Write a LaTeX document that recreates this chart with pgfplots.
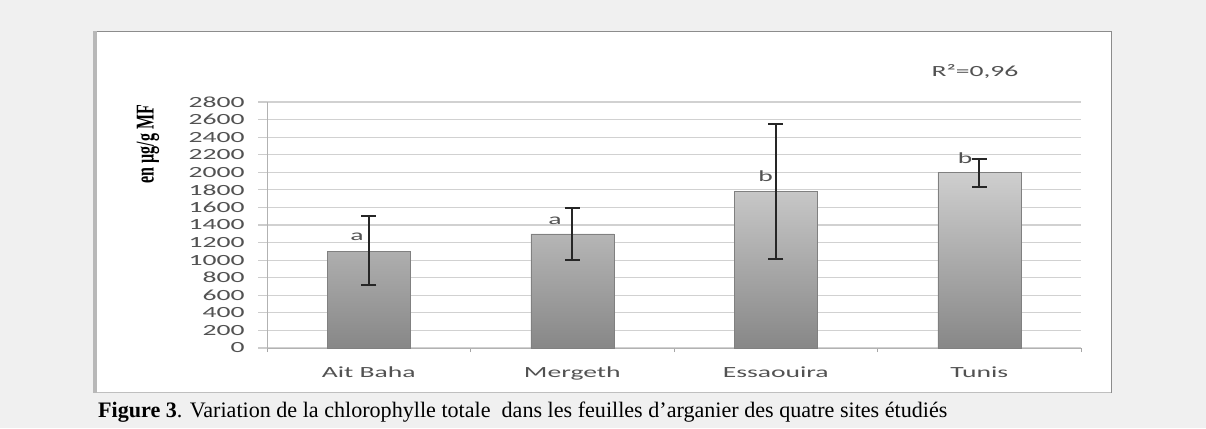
\documentclass[border=0pt]{standalone}
\usepackage{fontspec}
\setmainfont{Liberation Serif}
\newfontfamily\calfont{Carlito}
\usepackage{pgfplots}
\pgfplotsset{compat=1.18}
\pgfplotstableread{
x y ep em
0 1100 400 380
1 1300 290 300
2 1780 770 770
3 2000 150 170
}\datatab
\begin{document}
\begin{tikzpicture}[x=1pt,y=1pt]
\fill[black!6] (0,0) rectangle (1206,428);
\fill[white] (96,35) rectangle (1111,396.5);
\draw[black!45, line width=1pt] (96,396.5) -- (1111,396.5) -- (1111,35);
\draw[black!25, line width=1pt] (96,35) -- (1111,35);
\fill[black!28] (92.5,35) rectangle (96.5,397);
\begin{axis}[
  at={(267pt,80pt)}, anchor=south west, scale only axis,
  width=814pt, height=246pt,
  xmin=-0.5, xmax=3.5, ymin=0, ymax=2800,
  axis x line*=bottom, axis y line*=left,
  axis line style={black!30, line width=1pt, -},
  ytick={0,200,...,2800},
  ymajorgrids, major grid style={black!18, line width=1.2pt},
  xtick={0,1,2,3},
  xticklabels={Ait Baha, Mergeth, Essaouira, Tunis},
  minor xtick={-0.5,0.5,1.5,2.5,3.5},
  tick align=outside,
  major tick length=9pt, minor tick length=4pt,
  major x tick style={draw=none},
  minor x tick style={draw=black!35, line width=1pt},
  ytick style={draw=black!20, line width=1.2pt},
  scaled y ticks=false,
  /pgf/number format/1000 sep={},
  /pgf/number format/assume math mode=true,
  tick label style={font=\calfont\fontsize{15.5}{18}\selectfont, text=black!68, xscale=1.78},
  yticklabel style={xshift=-4pt},
  xticklabel style={yshift=-6pt},
]
\addplot[ybar, bar width=83pt, bar shift=0pt, draw=black!50, top color=black!19, bottom color=black!47]
  table[x=x, y=y] {\datatab};
\addplot[draw=none, mark=none,
  error bars/.cd, y dir=both, y explicit,
  error bar style={draw=black!85, line width=1.8pt},
  error mark options={rotate=90, mark size=7.5pt, line width=1.8pt, draw=black!85}]
  table[x=x, y=y, y error plus=ep, y error minus=em] {\datatab};
\node[font=\calfont\fontsize{15.5}{18}\selectfont, text=black!68, xscale=1.78] at (axis cs:-0.058,1263) {a};
\node[font=\calfont\fontsize{15.5}{18}\selectfont, text=black!68, xscale=1.78] at (axis cs:0.915,1449) {a};
\node[font=\calfont\fontsize{15.5}{18}\selectfont, text=black!68, xscale=1.78] at (axis cs:1.95,1958) {b};
\node[font=\calfont\fontsize{15.5}{18}\selectfont, text=black!68, xscale=1.78] at (axis cs:2.93,2166) {b};
\end{axis}
\node[font=\calfont\fontsize{15.5}{18}\selectfont, text=black!68, xscale=1.78] at (975,356.3) {R²=0,96};
\node[rotate=90, inner sep=0pt] at (148,284) {\scalebox{1}[1.6]{\fontsize{16}{19}\selectfont\bfseries en µg/g MF}};
\node[anchor=base west, inner sep=0pt, font=\fontsize{22.1}{26}\selectfont] at (98,10.7) {\textbf{Figure 3}. Variation de la chlorophylle totale \ dans les feuilles d’arganier des quatre sites étudiés};
\end{tikzpicture}
\end{document}
